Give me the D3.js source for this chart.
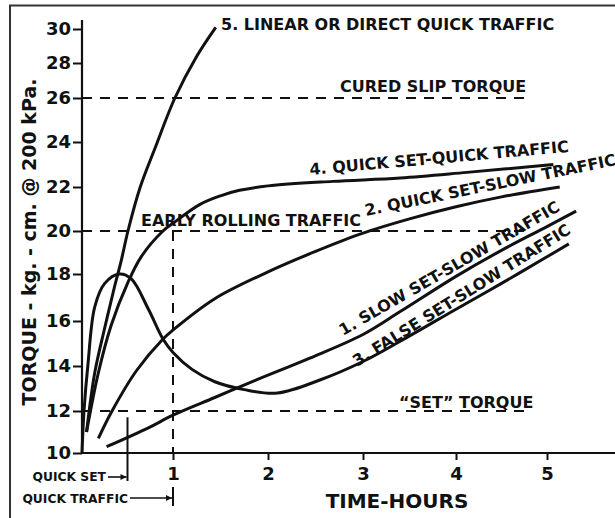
<!DOCTYPE html>
<html><head><meta charset="utf-8">
<script src="https://cdn.jsdelivr.net/npm/d3@7"></script>
<style>
body{margin:0;background:#fff;}
svg{display:block;}
text{font-family:"DejaVu Sans",Verdana,sans-serif;font-weight:bold;fill:#111;}
</style></head><body>
<svg id="c" width="615" height="518"></svg>
<script>
// ---- data ----
const hourTicks = [1, 2, 3, 4, 5];
const torqueTicks = [10, 12, 14, 16, 18, 20, 22, 24, 26, 28, 30];

const c1Hours  = [0.27, 0.73, 1.0, 1.44, 1.86, 2.44, 3.0, 3.4, 4.0, 4.5, 5.0, 5.32];
const c1Torque = [10.3, 11.2, 11.8, 12.6, 13.35, 14.35, 15.4, 16.4, 17.9, 19.1, 20.2, 20.9];

const c2Hours  = [0.18, 0.33, 0.6, 0.89, 1.0, 1.44, 2.0, 2.5, 3.0, 3.5, 4.0, 4.5, 5.14];
const c2Torque = [10.7, 12.0, 13.8, 15.2, 15.6, 16.95, 18.1, 19.05, 19.9, 20.55, 21.1, 21.55, 22.0];

const c3Hours  = [0, 0.022, 0.066, 0.14, 0.25, 0.41, 0.54, 0.73, 0.89, 1.0, 1.2, 1.44, 1.75, 2.1, 2.56, 3.0, 3.4, 4.0, 4.5, 5.0, 5.24];
const c3Torque = [10, 12.0, 14.1, 16.6, 17.6, 18.0, 17.8, 16.5, 15.2, 14.6, 13.85, 13.3, 12.95, 12.8, 13.4, 14.2, 15.1, 16.5, 17.6, 18.8, 19.4];

const c4Hours  = [0.05, 0.18, 0.32, 0.5, 0.65, 0.89, 1.0, 1.28, 1.5, 1.7, 2.0, 2.68, 3.4, 4.12, 5.07];
const c4Torque = [11.0, 13.7, 15.8, 17.6, 18.8, 20.0, 20.35, 21.2, 21.6, 21.85, 22.05, 22.25, 22.4, 22.65, 23.0];

const c5Hours  = [0.05, 0.14, 0.25, 0.36, 0.43, 0.505, 0.64, 0.8, 1.02, 1.25, 1.45];
const c5Torque = [11.0, 13.7, 15.7, 17.5, 18.6, 20.0, 22.0, 23.7, 26.0, 28.4, 30.1];

const curedSlip = 26, earlyRolling = 20, setTorque = 12;
const quickSetHour = 0.5, quickTrafficHour = 1;

const curveLabels = [
  {text: "5. LINEAR OR DIRECT QUICK TRAFFIC", px: 221, py: 30, rot: 0},
  {text: "4. QUICK SET-QUICK TRAFFIC", px: 310, py: 175, rot: -5.1},
  {text: "2. QUICK SET-SLOW TRAFFIC", px: 366, py: 216, rot: -11.5},
  {text: "1. SLOW SET-SLOW TRAFFIC", px: 343, py: 336, rot: -30},
  {text: "3. FALSE SET-SLOW TRAFFIC", px: 357, py: 367, rot: -32}
];

// ---- scales ----
const x = d3.scaleLinear().domain([0, 1, 2, 3, 4, 5]).range([82, 173, 268, 363, 456, 547]);
const y = d3.scaleLinear().domain(torqueTicks).range([453, 411, 366, 321, 274, 231, 187, 142, 98, 63, 29]);

const svg = d3.select("#c");
const ink = "#111";

// frame
svg.append("rect").attr("x", 10).attr("y", 5.5).attr("width", 700).attr("height", 600)
  .attr("fill", "none").attr("stroke", "#333").attr("stroke-width", 2);

// dashed reference lines
const dash = "10,8";
[[curedSlip, 524], [earlyRolling, 526], [setTorque, 524]].forEach(([v, xe]) => {
  svg.append("line").attr("x1", x(0)).attr("x2", xe).attr("y1", y(v)).attr("y2", y(v))
    .attr("stroke", ink).attr("stroke-width", 2).attr("stroke-dasharray", dash);
});
svg.append("line").attr("x1", x(quickTrafficHour)).attr("x2", x(quickTrafficHour))
  .attr("y1", y(earlyRolling)).attr("y2", y(10))
  .attr("stroke", ink).attr("stroke-width", 2).attr("stroke-dasharray", dash);

// quick set solid marker
svg.append("line").attr("x1", x(quickSetHour)).attr("x2", x(quickSetHour))
  .attr("y1", y(11.7)).attr("y2", 481).attr("stroke", ink).attr("stroke-width", 2);

// axes
const yAxis = d3.axisLeft(y).tickValues(torqueTicks).tickSize(9).tickPadding(2);
const gy = svg.append("g").attr("transform", `translate(${x(0)},0)`).call(yAxis);
gy.select(".domain").remove();
gy.selectAll(".tick line").attr("stroke", ink).attr("stroke-width", 2);
gy.selectAll(".tick text").style("font-size", "18px").attr("fill", ink);
svg.append("line").attr("x1", x(0)).attr("x2", x(0)).attr("y1", 20).attr("y2", y(10) + 1)
  .attr("stroke", ink).attr("stroke-width", 2.2);

const xAxis = d3.axisBottom(x).tickValues(hourTicks).tickSize(7).tickPadding(7).tickFormat(d3.format("d"));
const gx = svg.append("g").attr("transform", `translate(0,${y(10)})`).call(xAxis);
gx.select(".domain").remove();
gx.selectAll(".tick line").attr("stroke", ink).attr("stroke-width", 2);
gx.selectAll(".tick text").style("font-size", "18px").attr("fill", ink);
svg.append("line").attr("x1", x(0) - 1).attr("x2", 615).attr("y1", y(10)).attr("y2", y(10))
  .attr("stroke", ink).attr("stroke-width", 2.2);

// axis titles
svg.append("text").attr("x", 397).attr("y", 508).attr("text-anchor", "middle")
  .style("font-size", "20px").text("TIME-HOURS");
svg.append("text").attr("transform", "translate(36,242) rotate(-90)").attr("text-anchor", "middle")
  .style("font-size", "19px").text("TORQUE - kg. - cm. @ 200 kPa.");

// curves
const line = d3.line().x(d => x(d[0])).y(d => y(d[1])).curve(d3.curveCatmullRom.alpha(0.5));
[[c1Hours, c1Torque], [c2Hours, c2Torque], [c3Hours, c3Torque], [c4Hours, c4Torque], [c5Hours, c5Torque]]
  .forEach(([h, t]) => {
    svg.append("path").datum(h.map((d, i) => [d, t[i]])).attr("d", line)
      .attr("fill", "none").attr("stroke", ink).attr("stroke-width", 3).attr("stroke-linecap", "butt");
  });

// reference-line labels
svg.append("text").attr("x", 340).attr("y", y(curedSlip) - 6).style("font-size", "16px").text("CURED SLIP TORQUE");
svg.append("text").attr("x", 141).attr("y", y(earlyRolling) - 5).style("font-size", "16px").text("EARLY ROLLING TRAFFIC");
svg.append("text").attr("x", 399).attr("y", y(setTorque) - 3).style("font-size", "16px").text("\u201CSET\u201D TORQUE");

// curve labels
curveLabels.forEach(l => {
  svg.append("text").attr("transform", `translate(${l.px},${l.py}) rotate(${l.rot})`)
    .style("font-size", "16px").text(l.text);
});

// quick set / quick traffic annotations
const defs = svg.append("defs");
defs.append("marker").attr("id", "ah").attr("viewBox", "0 0 10 10").attr("refX", 10).attr("refY", 5)
  .attr("markerWidth", 8).attr("markerHeight", 6).attr("markerUnits", "userSpaceOnUse").attr("orient", "auto")
  .append("path").attr("d", "M0,0L10,5L0,10Z").attr("fill", ink);

svg.append("text").attr("x", 106).attr("y", 481).attr("text-anchor", "end").style("font-size", "12.3px").text("QUICK SET");
svg.append("line").attr("x1", 108).attr("x2", x(quickSetHour) - 1).attr("y1", 477).attr("y2", 477)
  .attr("stroke", ink).attr("stroke-width", 1.6).attr("marker-end", "url(#ah)");

svg.append("text").attr("x", 128).attr("y", 502.5).attr("text-anchor", "end").style("font-size", "12.3px").text("QUICK TRAFFIC");
svg.append("line").attr("x1", 130).attr("x2", x(quickTrafficHour) - 1).attr("y1", 498).attr("y2", 498)
  .attr("stroke", ink).attr("stroke-width", 1.6).attr("marker-end", "url(#ah)");
svg.append("line").attr("x1", x(quickTrafficHour)).attr("x2", x(quickTrafficHour)).attr("y1", 487).attr("y2", 506)
  .attr("stroke", ink).attr("stroke-width", 2);
</script>
</body></html>
